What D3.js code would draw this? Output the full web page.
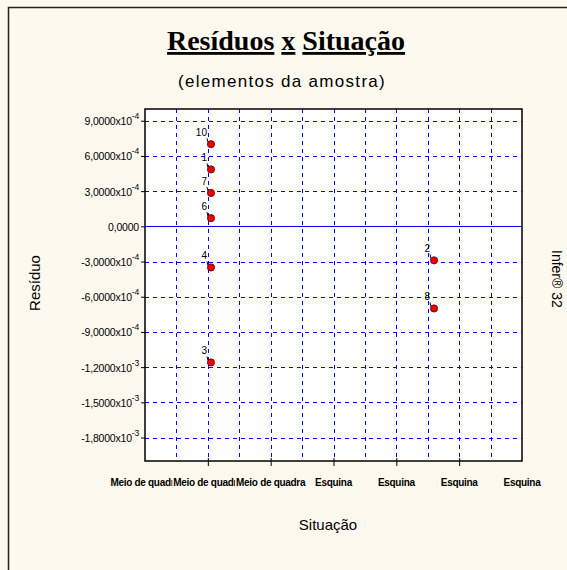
<!DOCTYPE html>
<html><head><meta charset="utf-8">
<script src="https://cdn.jsdelivr.net/npm/d3@7"></script>
<style>html,body{margin:0;padding:0;background:#fef9ee;}svg{display:block;}</style>
</head><body><svg id="c" width="567" height="570"></svg>
<script>
// ---- data ----
const pointIds   = ["10", "1", "7", "6", "4", "3", "2", "8"];
const pointX     = [2.1, 2.1, 2.1, 2.1, 2.1, 2.1, 9.2, 9.2];
const residuals  = [7.0e-4, 4.85e-4, 2.85e-4, 0.7e-4, -3.5e-4, -11.6e-4, -2.9e-4, -7.0e-4];
const xTickPos   = [0, 2, 4, 6, 8, 10, 12];
const xTickLabels= ["Meio de quadra","Meio de quadra","Meio de quadra","Esquina","Esquina","Esquina","Esquina"];
const yTicks     = [9e-4, 6e-4, 3e-4, 0, -3e-4, -6e-4, -9e-4, -1.2e-3, -1.5e-3, -1.8e-3];
const xGrid      = [1,2,3,4,5,6,7,8,9,10,11];

const svg = d3.select("#c");
const W = 567, H = 570;
const L = 145, R = 522, T = 109, B = 461;
const x = d3.scaleLinear().domain([0, 12]).range([L, R]);
const y = d3.scaleLinear().domain([-2.0e-3, 1.0e-3]).range([B, T]);
const crisp = v => Math.round(v) + 0.5;

// window frame (top & left)
svg.append("rect").attr("x",0).attr("y",0).attr("width",W).attr("height",H).attr("fill","#fef9ee");
svg.append("path").attr("d",`M8.5,${H} V7.5 H${W}`).attr("fill","none").attr("stroke","#222").attr("stroke-width",1.5);

// title
const title = svg.append("text").attr("x",286).attr("y",50).attr("text-anchor","middle")
  .attr("font-family","'Liberation Serif','Times New Roman',serif").attr("font-weight","bold")
  .attr("font-size",28).attr("fill","#000");
title.append("tspan").attr("text-decoration","underline").text("Resíduos");
title.append("tspan").text(" ");
title.append("tspan").attr("text-decoration","underline").text("x");
title.append("tspan").text(" ");
title.append("tspan").attr("text-decoration","underline").text("Situação");

svg.append("text").attr("x",282).attr("y",87).attr("text-anchor","middle")
  .attr("font-family","'Liberation Sans',Arial,sans-serif").attr("font-size",17).attr("letter-spacing",1.3)
  .attr("fill","#000").text("(elementos da amostra)");

// plot background
svg.append("rect").attr("x",L).attr("y",T).attr("width",R-L).attr("height",B-T).attr("fill","#fff");

// grid
const g = svg.append("g").attr("shape-rendering","crispEdges");
g.selectAll("line.vg").data(xGrid).join("line").attr("class","vg")
  .attr("x1",d=>crisp(x(d))).attr("x2",d=>crisp(x(d))).attr("y1",T).attr("y2",B)
  .attr("stroke","#0000ff").attr("stroke-width",1.2).attr("stroke-dasharray","4,4");
g.selectAll("line.hg").data(yTicks.filter(v=>v!==0)).join("line").attr("class","hg")
  .attr("x1",L).attr("x2",R).attr("y1",d=>crisp(y(d))).attr("y2",d=>crisp(y(d)))
  .attr("stroke","#0000ff").attr("stroke-width",1.2).attr("stroke-dasharray","4,4");
g.append("line").attr("x1",L).attr("x2",R).attr("y1",crisp(y(0))).attr("y2",crisp(y(0)))
  .attr("stroke","#0000ff").attr("stroke-width",1.5);

// border
svg.append("rect").attr("x",L).attr("y",T).attr("width",R-L).attr("height",B-T)
  .attr("fill","none").attr("stroke","#000").attr("stroke-width",1.5);

// y axis
const fmtNum = v => {
  if (v === 0) return {m:"0,0000", e:null};
  const e = Math.abs(v) >= 1e-3 ? -3 : -4;
  return {m:(v/Math.pow(10,e)).toFixed(4).replace(".",","), e:e};
};
const yAxis = d3.axisLeft(y).tickValues(yTicks).tickSize(4).tickFormat("");
const ya = svg.append("g").attr("transform",`translate(${L},0)`).call(yAxis);
ya.select(".domain").remove();
ya.selectAll(".tick line").attr("stroke","#000");
ya.selectAll(".tick").each(function(d){
  const f = fmtNum(d);
  const t = d3.select(this).append("text").attr("fill","#000")
    .attr("font-family","'Liberation Sans',Arial,sans-serif").attr("font-size",10.5)
    .attr("letter-spacing",-0.2).attr("text-anchor","end").attr("y",4).attr("x",-6);
  if (f.e === null) { t.text(f.m); }
  else {
    t.append("tspan").text(f.m + "x10");
    t.append("tspan").attr("font-size",8.5).attr("dy",-6).text(String(f.e));
  }
});

// x axis
const xAxis = d3.axisBottom(x).tickValues([2,4,6,8,10]).tickSize(5).tickFormat("");
const xa = svg.append("g").attr("transform",`translate(0,${B})`).call(xAxis);
xa.select(".domain").remove();
xa.selectAll(".tick line").attr("stroke","#000").attr("y1",-3);
const xl = svg.append("g");
xTickPos.forEach((p,i)=>{
  const t = xl.append("text").attr("x",x(p)).attr("y",486).attr("text-anchor","middle")
    .attr("font-family","'Liberation Sans',Arial,sans-serif").attr("font-size",10).attr("font-weight","bold")
    .attr("letter-spacing",-0.3).attr("fill","#000").text(xTickLabels[i]);
  const bb = t.node().getBBox();
  xl.insert("rect", function(){ return t.node(); })
    .attr("x",bb.x-1).attr("y",bb.y).attr("width",bb.width+2).attr("height",bb.height).attr("fill","#fef9ee");
});

// axis titles
svg.append("text").attr("transform","translate(40,283) rotate(-90)").attr("text-anchor","middle")
  .attr("font-family","'Liberation Sans',Arial,sans-serif").attr("font-size",15).attr("fill","#000").text("Resíduo");
svg.append("text").attr("x",328).attr("y",530).attr("text-anchor","middle")
  .attr("font-family","'Liberation Sans',Arial,sans-serif").attr("font-size",15).attr("fill","#000").text("Situação");
svg.append("text").attr("transform","translate(552,250) rotate(90)").attr("text-anchor","start")
  .attr("font-family","'Liberation Sans',Arial,sans-serif").attr("font-size",14).attr("fill","#000").text("Infer® 32");

// points
const pts = pointIds.map((id,i)=>({id, x:pointX[i], v:residuals[i]}));
const pg = svg.append("g");
pg.selectAll("path.lead").data(pts).join("path").attr("class","lead")
  .attr("d",d=>`M${x(d.x)-4},${y(d.v)-6} l1,4`).attr("stroke","#000").attr("stroke-width",1).attr("fill","none");
pg.selectAll("circle").data(pts).join("circle")
  .attr("cx",d=>x(d.x)).attr("cy",d=>y(d.v)).attr("r",3.6)
  .attr("fill","#ee0000").attr("stroke","#550000").attr("stroke-width",0.8);
pg.selectAll("text").data(pts).join("text")
  .attr("x",d=>x(d.x)-4).attr("y",d=>y(d.v)-8).attr("text-anchor","end")
  .attr("font-family","'Liberation Sans',Arial,sans-serif").attr("font-size",10).attr("fill","#000")
  .text(d=>d.id);
</script></body></html>
